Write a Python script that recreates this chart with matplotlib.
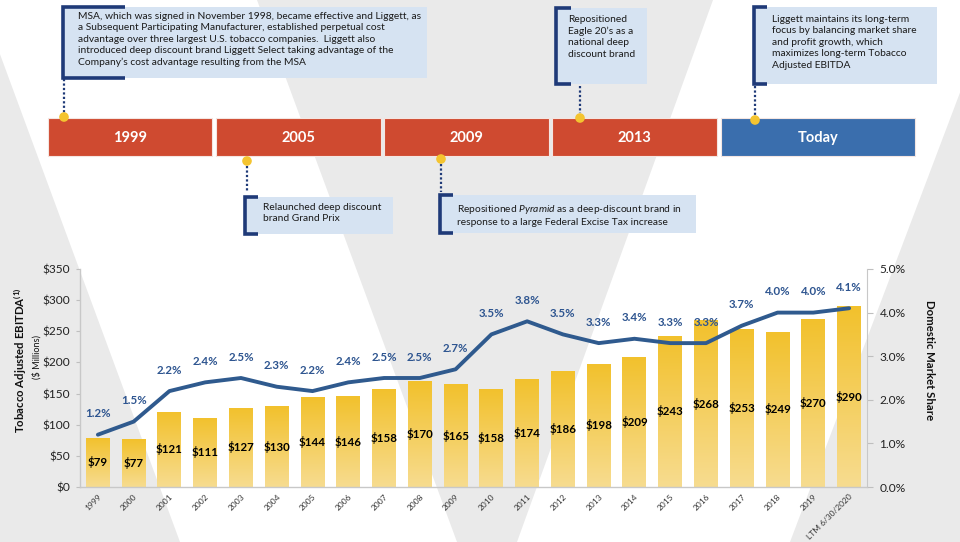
import numpy as np
import matplotlib
matplotlib.use("Agg")
import matplotlib.pyplot as plt
from matplotlib.patches import Polygon, Rectangle, Circle
from matplotlib.colors import LinearSegmentedColormap

plt.rcParams['font.family'] = ['Lato', 'DejaVu Sans']
plt.rcParams['mathtext.fontset'] = 'custom'
plt.rcParams['mathtext.rm'] = 'Lato'
plt.rcParams['mathtext.it'] = 'Lato:italic'
plt.rcParams['mathtext.bf'] = 'Lato:bold'

# ---- data ----
years = ["1999", "2000", "2001", "2002", "2003", "2004", "2005", "2006", "2007", "2008",
         "2009", "2010", "2011", "2012", "2013", "2014", "2015", "2016", "2017", "2018",
         "2019", "LTM 6/30/2020"]
ebitda = [79, 77, 121, 111, 127, 130, 144, 146, 158, 170, 165, 158, 174, 186, 198, 209,
          243, 268, 253, 249, 270, 290]
share = [1.2, 1.5, 2.2, 2.4, 2.5, 2.3, 2.2, 2.4, 2.5, 2.5, 2.7, 3.5, 3.8, 3.5, 3.3, 3.4,
         3.3, 3.3, 3.7, 4.0, 4.0, 4.1]

timeline_labels = ["1999", "2005", "2009", "2013", "Today"]
timeline_notes = [
    "MSA, which was signed in November 1998, became effective and Liggett, as\n"
    "a Subsequent Participating Manufacturer, established perpetual cost\n"
    "advantage over three largest U.S. tobacco companies.  Liggett also\n"
    "introduced deep discount brand Liggett Select taking advantage of the\n"
    "Company\u2019s cost advantage resulting from the MSA",
    "Relaunched deep discount\nbrand Grand Prix",
    "Repositioned $\\mathit{Pyramid}$ as a deep-discount brand in\n"
    "response to a large Federal Excise Tax increase",
    "Repositioned\nEagle 20\u2019s as a\nnational deep\ndiscount brand",
    "Liggett maintains its long-term\nfocus by balancing market share\n"
    "and profit growth, which\nmaximizes long-term Tobacco\nAdjusted EBITDA",
]

RED = "#CF4A30"
BLUE_BOX = "#3A6EAD"
GOLD = "#F4C430"
NOTE_FILL = "#D6E3F2"
NAVY = "#1F3A78"
LINE = "#2F5A8E"
PCT = "#2E5590"
GRAY_BG = "#EAEAEA"

fig = plt.figure(figsize=(9.6, 5.42), dpi=100)
fig.patch.set_facecolor(GRAY_BG)

# background + timeline drawn in pixel coordinates
bg = fig.add_axes([0, 0, 1, 1], zorder=0)
bg.set_xlim(0, 960)
bg.set_ylim(542, 0)
bg.axis("off")
bg.add_patch(Polygon([(-20, 0), (257, 0), (457, 542), (180, 542)], closed=True,
                     facecolor="white", edgecolor="none"))
bg.add_patch(Polygon([(713, 0), (995, 0), (790, 542), (517, 542)], closed=True,
                     facecolor="white", edgecolor="none"))

# timeline boxes
box_x = [(48, 212), (216, 381), (384, 549), (552, 717), (721, 915)]
box_col = [RED, RED, RED, RED, BLUE_BOX]
for (x0, x1), lab, c in zip(box_x, timeline_labels, box_col):
    bg.add_patch(Rectangle((x0, 118), x1 - x0, 38, facecolor=c, edgecolor="#f4e6e2",
                           linewidth=0.8))
    bg.text((x0 + x1) / 2, 138, lab, color="white", fontsize=10.5, fontweight="bold",
            ha="center", va="center")

# notes: (bracket x, top, bottom, fill right, text x, text top, dot x, dot y, dotted span, arm)
notes_geo = [
    (63, 7, 78, 427, 78, 12, 64, 117, (79, 113), 62),
    (245, 197, 234, 393, 263, 203, 247, 161, (166, 192), 13),
    (440, 195, 233, 696, 457, 203, 441, 159, (164, 192), 13),
    (556, 8, 84, 647, 568, 15, 580, 118, (86, 113), 15),
    (754, 7, 84, 937, 772, 15, 755, 120, (86, 115), 13),
]
for note, (bx, top, bot, fr, tx, ty, dx, dy, (ls0, ls1), arm) in zip(timeline_notes, notes_geo):
    bg.add_patch(Rectangle((bx, top), fr - bx, bot - top, facecolor=NOTE_FILL,
                           edgecolor="none"))
    bg.plot([bx + arm, bx, bx, bx + arm], [top, top, bot, bot], color=NAVY, linewidth=2.6,
            solid_capstyle="butt", solid_joinstyle="miter")
    bg.text(tx, ty, note, fontsize=7.4, color="#1a1a1a", ha="left", va="top",
            linespacing=1.35)
    bg.plot([dx, dx], [ls0, ls1], color=NAVY, linewidth=1.6, linestyle=(0, (1, 1)))
    bg.add_patch(Circle((dx, dy), 4.8, facecolor=GOLD, edgecolor="none", zorder=5))

# ---- chart ----
ax = fig.add_axes([80 / 960, 1 - 487 / 542, (867 - 80) / 960, (487 - 269) / 542], zorder=1)
ax.patch.set_visible(False)
x = np.arange(len(years))
bars = ax.bar(x, ebitda, width=0.67, color="#F4CD50", zorder=2)

cmap = LinearSegmentedColormap.from_list("bar", ["#F7DC90", "#F2C12C"])
grad = np.linspace(0, 1, 256).reshape(-1, 1)
for b in bars:
    bx0 = b.get_x()
    im = ax.imshow(grad, extent=(bx0, bx0 + b.get_width(), 0, b.get_height()),
                   origin="lower", cmap=cmap, aspect="auto", zorder=2.1)
    im.set_clip_path(b)

for xi, v in zip(x, ebitda):
    ax.text(xi, v / 2, "\\$%d" % v, ha="center", va="center", fontsize=8.3,
            fontweight="bold", color="black", zorder=4)

ax.set_xlim(-0.5, 21.5)
ax.set_ylim(0, 350)
ax.set_yticks(np.arange(0, 351, 50))
ax.set_yticklabels(["\\$%d" % t for t in range(0, 351, 50)], fontsize=8.6, color="#222222")
ax.set_xticks(x)
ax.set_xticklabels(years, rotation=45, ha="right", rotation_mode="anchor", fontsize=6.0,
                   color="#333333")
ax.tick_params(axis="x", length=0, pad=4)
ax.tick_params(axis="y", length=3, color="#bfbfbf", pad=4)
for s in ["top", "right"]:
    ax.spines[s].set_visible(False)
for s in ["left", "bottom"]:
    ax.spines[s].set_color("#c8c8c8")
    ax.spines[s].set_linewidth(1.0)

ax2 = ax.twinx()
ax2.set_zorder(2)
ax2.patch.set_visible(False)
ax2.plot(x, share, color=LINE, linewidth=2.8, solid_capstyle="round", zorder=3)
for xi, s in zip(x, share):
    ax2.annotate("%.1f%%" % s, (xi, s), xytext=(0, 15), textcoords="offset points",
                 ha="center", va="center", fontsize=8.3, fontweight="bold", color=PCT)
ax2.set_ylim(0, 5)
ax2.set_yticks(np.arange(0, 5.01, 1))
ax2.set_yticklabels(["%.1f%%" % t for t in range(6)], fontsize=8.6, color="#222222")
ax2.tick_params(axis="y", length=4, color="#bfbfbf", pad=5)
for s in ["top", "left", "bottom"]:
    ax2.spines[s].set_visible(False)
ax2.spines["right"].set_color("#c8c8c8")

fig.text(20 / 960, 1 - 360 / 542, "Tobacco Adjusted EBITDA$^{\\mathbf{(1)}}$", rotation=90,
         ha="center", va="center", fontsize=8.2, fontweight="bold", color="#111111")
fig.text(37 / 960, 1 - 357 / 542, "($ Millions)", rotation=90, ha="center", va="center",
         fontsize=6.6, color="#111111")
fig.text(930 / 960, 1 - 360 / 542, "Domestic Market Share", rotation=-90, ha="center",
         va="center", fontsize=8.2, fontweight="bold", color="#111111")

fig.savefig("out.png", dpi=100, facecolor=fig.get_facecolor())
